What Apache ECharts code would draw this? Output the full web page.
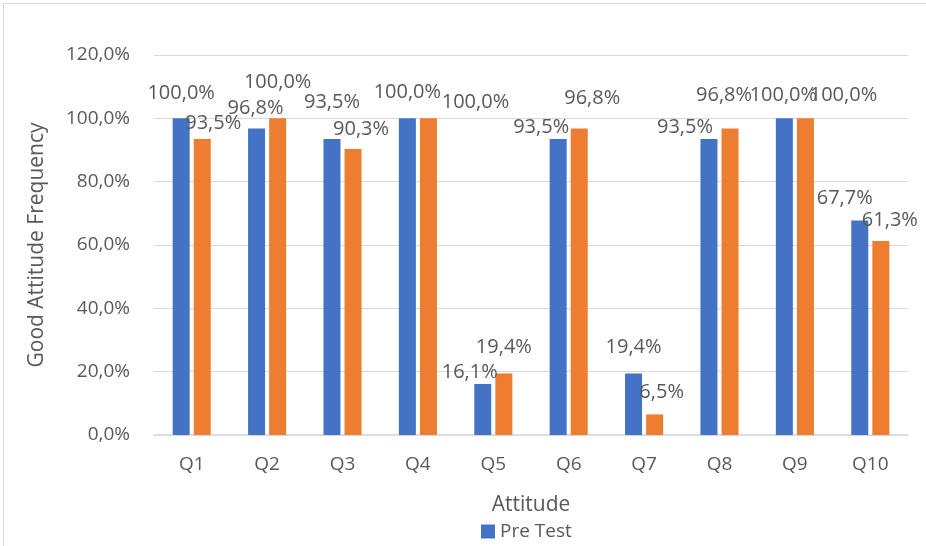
<!doctype html>
<html>

<head>
    <meta charset="utf-8">
    <title>Good Attitude Frequency</title>
    <script src="https://cdn.jsdelivr.net/npm/echarts@6/dist/echarts.min.js"></script>
    <style>
        html, body {
            margin: 0;
            padding: 0;
            background: #fff;
        }
        #container {
            width: 926px;
            height: 546px;
        }
    </style>
</head>

<body>
    <div id="container"></div>

    <script type="text/javascript">
        // 数据
        var categories = ['Q1', 'Q2', 'Q3', 'Q4', 'Q5', 'Q6', 'Q7', 'Q8', 'Q9', 'Q10'];
        var preTest = [100.0, 96.8, 93.5, 100.0, 16.1, 93.5, 19.4, 93.5, 100.0, 67.7];
        var postTest = [93.5, 100.0, 90.3, 100.0, 19.4, 96.8, 6.5, 96.8, 100.0, 61.3];
        var yTicks = [0, 20, 40, 60, 80, 100, 120];

        // 标签偏移（和原图一样有点乱）
        var preOffsets = [[0, -10], [-1, -5], [0, -22], [0, -11], [-13, 3], [-17, 3], [0, -11], [-24, 3], [-1, -8], [-15, -7]];
        var postOffsets = [[11, -1], [0, -21], [8, -5], [47, -1], [0, -11], [13, -15], [7, -7], [-6, -18], [38, -8], [9, -6]];

        var font = '"Open Sans", "Noto Sans", sans-serif';
        var gray = '#595959';

        function pct(v) {
            return v.toFixed(1).replace('.', ',') + '%';
        }

        function buildData(values, offsets) {
            var out = [];
            for (var i = 0; i < values.length; i++) {
                out.push({
                    value: values[i],
                    label: { offset: offsets[i] }
                });
            }
            return out;
        }

        var labelStyle = {
            show: true,
            position: 'top',
            distance: 5,
            color: gray,
            fontSize: 20,
            fontFamily: font,
            formatter: function (p) { return pct(p.value); }
        };

        var option = {
            backgroundColor: '#fff',
            animation: false,
            graphic: [{
                type: 'rect',
                shape: { x: 3.5, y: 3.5, width: 940, height: 560 },
                style: { fill: 'none', stroke: '#d9d9d9', lineWidth: 1 },
                silent: true
            }],
            grid: {
                left: 154,
                right: 18,
                top: 55,
                bottom: 111
            },
            legend: {
                data: ['Pre Test'],
                left: 476,
                top: 517,
                itemWidth: 14,
                itemHeight: 14,
                itemGap: 10,
                icon: 'rect',
                textStyle: { color: gray, fontSize: 19, fontFamily: font }
            },
            xAxis: {
                type: 'category',
                data: categories,
                name: 'Attitude',
                nameLocation: 'middle',
                nameGap: 60,
                nameTextStyle: { color: gray, fontSize: 21, fontFamily: font },
                axisTick: { show: false },
                axisLine: { lineStyle: { color: '#d9d9d9', width: 1.5 } },
                axisLabel: { color: gray, fontSize: 19, fontFamily: font, margin: 20 }
            },
            yAxis: {
                type: 'value',
                min: yTicks[0],
                max: yTicks[yTicks.length - 1],
                interval: 20,
                name: 'Good Attitude Frequency',
                nameLocation: 'middle',
                nameGap: 106,
                nameTextStyle: { color: gray, fontSize: 21, fontFamily: font },
                axisLine: { show: false },
                axisTick: { show: false },
                splitLine: { lineStyle: { color: '#d9d9d9', width: 1 } },
                axisLabel: {
                    color: gray, fontSize: 19, fontFamily: font, margin: 24,
                    formatter: function (v) { return pct(v); }
                }
            },
            series: [{
                name: 'Pre Test',
                type: 'bar',
                barWidth: 17,
                barGap: '24%',
                itemStyle: { color: '#4472C4' },
                label: labelStyle,
                data: buildData(preTest, preOffsets)
            }, {
                name: 'Post Test',
                type: 'bar',
                barWidth: 17,
                barGap: '24%',
                itemStyle: { color: '#ED7D31' },
                label: labelStyle,
                data: buildData(postTest, postOffsets)
            }]
        };

        var myChart = echarts.init(document.getElementById('container'));
        myChart.setOption(option);
    </script>
</body>

</html>
